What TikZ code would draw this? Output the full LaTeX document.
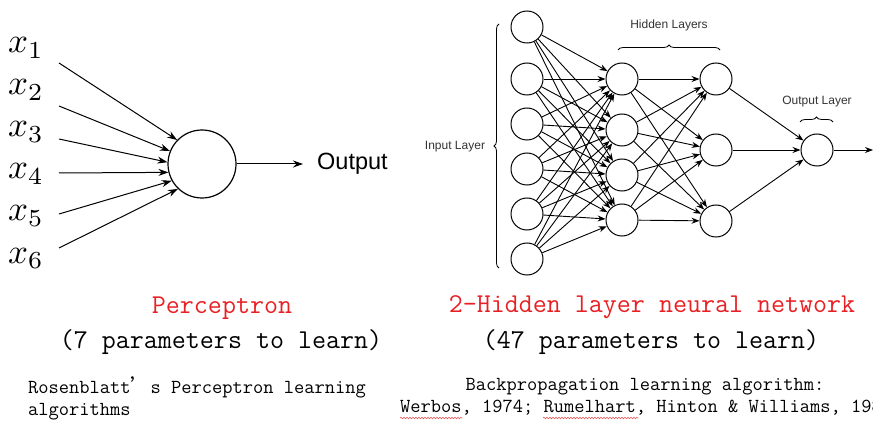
\documentclass[tikz,border=0pt]{standalone}
\usepackage{fontspec}
\newfontfamily\labelfont{Liberation Sans}
\newfontfamily\cjkfont{Noto Sans CJK SC}
\usetikzlibrary{arrows.meta,decorations.pathreplacing,decorations.pathmorphing}
\definecolor{titlered}{RGB}{232,32,36}
\definecolor{spellred}{RGB}{235,90,90}

\begin{document}
\begin{tikzpicture}[
    x=1pt, y=-1pt,
    neuron/.style={draw=black, circle, line width=1.2pt, minimum size=68pt, inner sep=0pt},
    unit/.style={draw=black, circle, line width=1pt, minimum size=32pt, inner sep=0pt},
    inarrow/.style={-{Stealth[length=10pt,width=7pt]}, line width=1pt},
    link/.style={-{Stealth[length=8pt,width=6pt]}, line width=0.9pt},
    layerbrace/.style={decorate, decoration={brace, amplitude=5pt}, line width=0.8pt},
    layerlabel/.style={font=\labelfont\fontsize{12}{14}\selectfont, text=black!80},
    bigtext/.style={font=\ttfamily\fontsize{27.2}{30}\selectfont, inner sep=0pt},
    smalltext/.style={font=\ttfamily\fontsize{19.9}{22}\selectfont, inner sep=0pt},
    spellmark/.style={draw=spellred, line width=0.6pt, decorate, decoration={snake, amplitude=0.8pt, segment length=3pt}}
]
\useasboundingbox (0,0) rectangle (873,422);
\clip (0,0) rectangle (873,422);

% Perceptron
\node[neuron] (p) at (202,164) {};
\foreach \i/\yy in {1/53,2/95,3/137,4/179,5/221,6/263}
    \node[anchor=base west, inner sep=0pt] (x\i) at (8,\yy) {\scalebox{3.5}{$x_{\i}$}};
\foreach \i/\yy/\ang in {1/63/136,2/106/158,3/139/177,4/173/194,5/214/209,6/248/226} {
    \coordinate (s\i) at (59,\yy);
    \draw[inarrow] (s\i) -- (p.\ang);
}
\node[anchor=west, inner sep=0pt, font=\labelfont\fontsize{23.5}{26}\selectfont] (outtxt) at (317,164) {Output};
\draw[inarrow, shorten >=14pt] (p.east) -- (outtxt.west);

% 2-hidden layer network
\foreach \i/\yy in {1/27,2/79,3/124,4/169,5/214,6/259}
    \node[unit] (in\i) at (527,\yy) {};
\foreach \i/\yy in {1/79,2/130,3/175,4/220}
    \node[unit] (ha\i) at (622,\yy) {};
\foreach \i/\yy in {1/79,2/150,3/221}
    \node[unit] (hb\i) at (716,\yy) {};
\node[unit] (out) at (817,150) {};
\coordinate (netend) at (873,150);

\foreach \i in {1,...,6}
    \foreach \j in {1,...,4}
        \draw[link] (in\i) -- (ha\j);
\foreach \i in {1,...,4}
    \foreach \j in {1,...,3}
        \draw[link] (ha\i) -- (hb\j);
\foreach \i in {1,...,3}
    \draw[link] (hb\i) -- (out);
\draw[link] (out) -- (netend);

% Layer braces
\draw[layerbrace] (499,268) -- (499,24);
\node[layerlabel] (inlbl) at (455,147) {Input Layer};
\draw[layerbrace] (618,50) -- (720,50);
\node[layerlabel] (hidlbl) at (669,25) {Hidden Layers};
\draw[layerbrace] (800,122) -- (833,122);
\node[layerlabel] (outlbl) at (817,102) {Output Layer};

% Captions
\node[bigtext, text=titlered] (ptitle) at (222,308) {Perceptron};
\node[bigtext] (pcount) at (221,342) {(7 parameters to learn)};
\node[smalltext, anchor=west] (pref1) at (28,387) {Rosenblatt{\cjkfont ’}s Perceptron learning};
\node[smalltext, anchor=west] (pref2) at (28,412) {algorithms};

\node[bigtext, text=titlered] (ntitle) at (652,307) {2-Hidden layer neural network};
\node[bigtext] (ncount) at (651,342) {(47 parameters to learn)};
\node[smalltext] (nref1) at (645,387) {Backpropagation learning algorithm:};
\node[smalltext, anchor=west] (nref2) at (400,408) {Werbos, 1974; Rumelhart, Hinton \& Williams, 1986};
\draw[spellmark] (400,418) -- (462,418);
\draw[spellmark] (543,418) -- (638,418);

\end{tikzpicture}
\end{document}
